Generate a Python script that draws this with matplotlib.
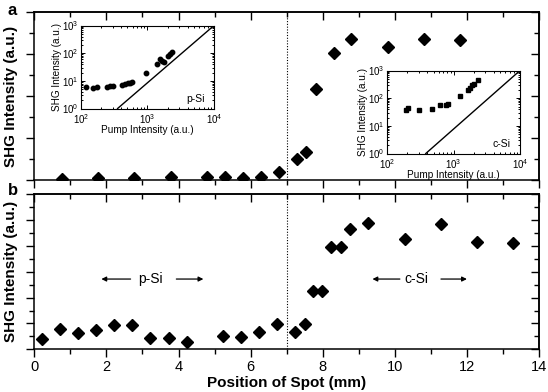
import matplotlib
matplotlib.use("Agg")
import matplotlib.pyplot as plt
from matplotlib.ticker import MultipleLocator, LogLocator, NullFormatter, LogFormatterMathtext
import numpy as np

plt.rcParams['font.family'] = ['Liberation Sans', 'DejaVu Sans']
plt.rcParams['mathtext.fontset'] = 'custom'
plt.rcParams['mathtext.rm'] = 'Liberation Sans'
plt.rcParams['mathtext.it'] = 'Liberation Sans:italic'
plt.rcParams['mathtext.bf'] = 'Liberation Sans:bold'

# ---- data: panel a ----
pos_a = [0.77, 1.77, 2.76, 3.8, 4.8, 5.28, 5.79, 6.28, 6.79, 7.3, 7.55, 7.81,
         8.3, 8.78, 9.8, 10.81, 11.81]
shg_a = [0.05, 0.12, 0.12, 0.15, 0.15, 0.14, 0.1, 0.15, 0.38, 1.01, 1.33, 4.33,
         6.04, 6.7, 6.35, 6.72, 6.67]

# ---- data: panel b ----
pos_b = [0.21, 0.72, 1.21, 1.71, 2.22, 2.72, 3.22, 3.73, 4.24, 5.23, 5.72, 6.23,
         6.73, 7.23, 7.5, 7.74, 7.99, 8.24, 8.5, 8.76, 9.26, 10.28, 11.28, 12.28, 13.27]
shg_b = [0.40, 0.77, 0.62, 0.75, 0.94, 0.94, 0.45, 0.45, 0.29, 0.50, 0.48, 0.68,
         0.97, 0.66, 0.97, 2.26, 2.27, 3.95, 3.95, 4.65, 4.90, 4.28, 4.84, 4.15, 4.10]

# ---- inset p-Si ----
pump_p = [119, 153, 172, 248, 272, 299, 417, 457, 501, 543, 589, 966, 1396, 1567,
          1660, 1778, 2042, 2213, 2317]
shgi_p = [6.0, 5.5, 6.2, 6.2, 6.4, 6.5, 7.1, 7.7, 8.2, 8.6, 9.0, 20, 40, 60,
          52, 50, 76, 95, 110]
ref_p_x = [355, 10000]
ref_p_y = [1, 1000]

# ---- inset c-Si ----
pump_c = [192, 208, 305, 470, 614, 765, 820, 1260, 1648, 1790, 1919, 2033, 2310]
shgi_c = [36, 44, 36, 42, 58, 59, 63, 116, 200, 232, 289, 331, 437]
ref_c_x = [380, 10000]
ref_c_y = [1, 1000]

boundary = 7.0
region_labels = ['p-Si', 'c-Si']
region_x = [3.22, 10.6]
region_y = [2.72, 2.72]
arrow_left = [(2.67, 1.86), (10.14, 9.38)]
arrow_right = [(3.94, 4.69), (11.28, 12.0)]

fig = plt.figure(figsize=(5.48, 3.92), dpi=100)
ax_a = fig.add_axes([0.0626, 0.5400, 0.9210, 0.4294])
ax_b = fig.add_axes([0.0626, 0.1089, 0.9210, 0.3954])


def style_main(ax, ymax, ymaj, ymin):
    ax.set_xlim(0, 14)
    ax.set_ylim(0, ymax)
    ax.xaxis.set_major_locator(MultipleLocator(2))
    ax.xaxis.set_minor_locator(MultipleLocator(1))
    ax.yaxis.set_major_locator(MultipleLocator(ymaj))
    ax.yaxis.set_minor_locator(MultipleLocator(ymin))
    ax.tick_params(which='both', direction='out', width=1, labelsize=10.5,
                   left=True, bottom=True, labelleft=False, pad=2)
    ax.tick_params(which='major', length=6)
    ax.tick_params(which='minor', length=3.5)
    for s in ax.spines.values():
        s.set_linewidth(1.1)
    sx = ax.secondary_xaxis('top')
    sx.xaxis.set_major_locator(MultipleLocator(2))
    sx.xaxis.set_minor_locator(MultipleLocator(1))
    sx.tick_params(which='both', direction='in', width=1, labeltop=False)
    sx.tick_params(which='major', length=6)
    sx.tick_params(which='minor', length=3.5)
    sx.spines['top'].set_linewidth(1.1)
    sy = ax.secondary_yaxis('right')
    sy.yaxis.set_major_locator(MultipleLocator(ymaj))
    sy.yaxis.set_minor_locator(MultipleLocator(ymin))
    sy.tick_params(which='both', direction='in', width=1, labelright=False)
    sy.tick_params(which='major', length=6)
    sy.tick_params(which='minor', length=3.5)
    sy.spines['right'].set_linewidth(1.1)
    ax.axvline(boundary, color='black', lw=0.8, ls=(0, (1, 1.5)))
    ax.set_ylabel('SHG Intensity (a.u.)', fontsize=11, fontweight='bold', labelpad=6)


style_main(ax_a, 8, 2, 1)
style_main(ax_b, 6, 1, 0.5)
ax_a.tick_params(labelbottom=False)

ax_a.plot(pos_a, shg_a, 'D', color='black', ms=6.3, mec='black')
ax_b.plot(pos_b, shg_b, 'D', color='black', ms=6.3, mec='black')
ax_b.set_xlabel('Position of Spot (mm)', fontsize=11, fontweight='bold', labelpad=1)

for lab, x, y, al, ar in zip(region_labels, region_x, region_y, arrow_left, arrow_right):
    ax_b.text(x, y, lab, ha='center', va='center', fontsize=10)
    ax_b.annotate('', xy=(al[1], y), xytext=(al[0], y),
                  arrowprops=dict(arrowstyle='-|>', lw=0.9, color='black',
                                  mutation_scale=7, shrinkA=0, shrinkB=0))
    ax_b.annotate('', xy=(ar[1], y), xytext=(ar[0], y),
                  arrowprops=dict(arrowstyle='-|>', lw=0.9, color='black',
                                  mutation_scale=7, shrinkA=0, shrinkB=0))

fig.text(0.014, 0.972, 'a', fontsize=12, fontweight='bold', ha='left', va='center')
fig.text(0.014, 0.515, 'b', fontsize=12, fontweight='bold', ha='left', va='center')


def style_inset(ax, label):
    ax.set_xscale('log')
    ax.set_yscale('log')
    ax.set_xlim(1e2, 1e4)
    ax.set_ylim(1e0, 1e3)
    ax.xaxis.set_major_locator(LogLocator(base=10, numticks=10))
    ax.yaxis.set_major_locator(LogLocator(base=10, numticks=10))
    ax.xaxis.set_minor_locator(LogLocator(base=10, subs=np.arange(2, 10), numticks=20))
    ax.yaxis.set_minor_locator(LogLocator(base=10, subs=np.arange(2, 10), numticks=20))
    ax.xaxis.set_minor_formatter(NullFormatter())
    ax.yaxis.set_minor_formatter(NullFormatter())
    ax.xaxis.set_major_formatter(LogFormatterMathtext())
    ax.yaxis.set_major_formatter(LogFormatterMathtext())
    ax.tick_params(which='both', direction='in', top=True, right=True,
                   labelsize=7.0, width=0.7)
    ax.tick_params(axis='x', pad=3)
    ax.tick_params(axis='y', pad=2)
    ax.tick_params(which='major', length=3)
    ax.tick_params(which='minor', length=1.6)
    for s in ax.spines.values():
        s.set_linewidth(0.8)
    ax.set_xlabel('Pump Intensity (a.u.)', fontsize=7.2, labelpad=-1)
    ax.set_ylabel('SHG Intensity (a.u.)', fontsize=7.2, labelpad=0)
    ax.text(0.86, 0.11, label, transform=ax.transAxes, fontsize=7.5,
            ha='center', va='center')


in_p = fig.add_axes([0.1478, 0.7232, 0.2427, 0.2117])
style_inset(in_p, 'p-Si')
in_p.plot(pump_p, shgi_p, 'o', color='black', ms=3.2)
in_p.plot(ref_p_x, ref_p_y, '-', color='black', lw=1)

in_c = fig.add_axes([0.7068, 0.6084, 0.2421, 0.2117])
style_inset(in_c, 'c-Si')
in_c.plot(pump_c, shgi_c, 's', color='black', ms=3.2)
in_c.plot(ref_c_x, ref_c_y, '-', color='black', lw=1)

fig.savefig('out.png', dpi=100)
